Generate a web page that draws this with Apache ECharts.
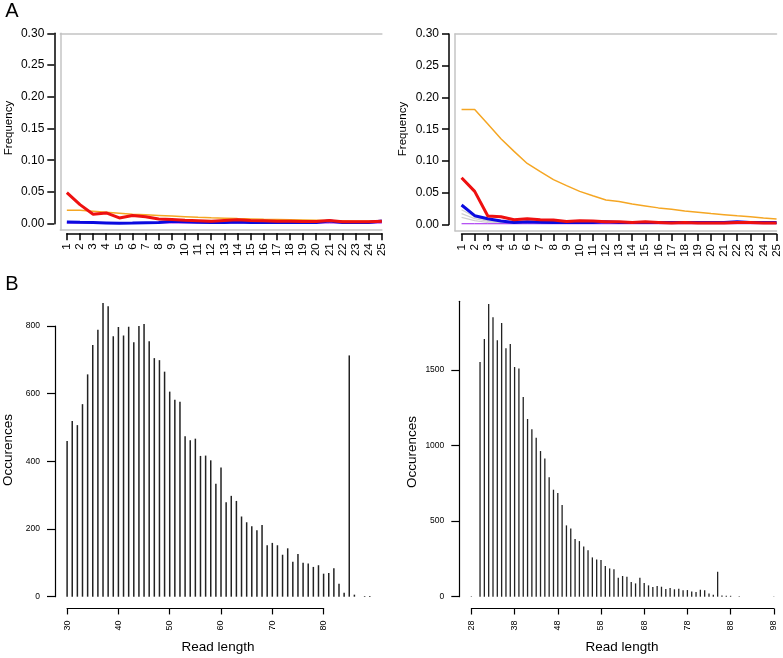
<!DOCTYPE html>
<html>
<head>
<meta charset="utf-8">
<script src="https://cdn.jsdelivr.net/npm/echarts@6/dist/echarts.min.js"></script>
<style>html,body{margin:0;padding:0;background:#fff}#c{width:783px;height:658px}</style>
</head>
<body>
<div id="c"></div>
<script>
// ---------- DATA ----------
const positions = [1,2,3,4,5,6,7,8,9,10,11,12,13,14,15,16,17,18,19,20,21,22,23,24,25];
const freqTicks = [0, 0.05, 0.10, 0.15, 0.20, 0.25, 0.30];

// Panel A left
const aLeftRed    = [0.049,0.030,0.015,0.017,0.009,0.013,0.011,0.0075,0.0065,0.0055,0.0048,0.004,0.0052,0.006,0.005,0.0045,0.004,0.004,0.0035,0.0035,0.005,0.003,0.003,0.003,0.004];
const aLeftBlue   = [0.0028,0.0022,0.0017,0.0012,0.0006,0.001,0.0015,0.002,0.0038,0.003,0.0022,0.002,0.002,0.0028,0.002,0.002,0.002,0.002,0.002,0.002,0.0042,0.002,0.002,0.002,0.0042];
const aLeftOrange = [0.021,0.021,0.0195,0.018,0.0165,0.015,0.014,0.013,0.012,0.011,0.010,0.0092,0.0086,0.008,0.0075,0.007,0.0066,0.0062,0.0058,0.0054,0.005,0.0047,0.0044,0.0042,0.004];
const aLeftPurple = [0.001,0.001,0.001,0.001,0.001,0.001,0.001,0.001,0.001,0.001,0.001,0.001,0.001,0.001,0.001,0.001,0.001,0.001,0.001,0.001,0.001,0.001,0.001,0.001,0.001];

// Panel A right
const aRightRed    = [0.0736,0.052,0.0132,0.012,0.0074,0.009,0.0074,0.007,0.0047,0.0058,0.0052,0.0042,0.004,0.003,0.004,0.003,0.002,0.003,0.002,0.002,0.002,0.003,0.003,0.002,0.002];
const aRightBlue   = [0.0305,0.0137,0.009,0.0053,0.003,0.004,0.0035,0.003,0.003,0.003,0.003,0.004,0.003,0.003,0.003,0.003,0.003,0.003,0.003,0.003,0.003,0.004,0.003,0.003,0.003];
const aRightOrange = [0.181,0.181,0.158,0.135,0.115,0.096,0.083,0.0705,0.061,0.052,0.045,0.0385,0.036,0.032,0.029,0.026,0.024,0.021,0.019,0.017,0.0153,0.0135,0.012,0.010,0.0085];
const aRightPurple = [0.001,0.001,0.001,0.001,0.001,0.001,0.001,0.001,0.001,0.001,0.001,0.001,0.001,0.001,0.001,0.001,0.001,0.001,0.001,0.001,0.001,0.001,0.001,0.001,0.001];
const aRightGray1  = [0.023,0.012,0.006,0.003,0.002,0.002,0.002,0.002,0.002,0.002,0.002,0.002,0.002,0.002,0.002,0.002,0.002,0.002,0.002,0.002,0.002,0.002,0.002,0.002,0.002];
const aRightGray2  = [0.017,0.009,0.005,0.0025,0.002,0.002,0.002,0.002,0.002,0.002,0.002,0.002,0.002,0.002,0.002,0.002,0.002,0.002,0.002,0.002,0.002,0.002,0.002,0.002,0.002];
const aRightGray3  = [0.011,0.006,0.003,0.002,0.0015,0.0015,0.0015,0.0015,0.0015,0.0015,0.0015,0.0015,0.0015,0.0015,0.0015,0.0015,0.0015,0.0015,0.0015,0.0015,0.0015,0.0015,0.0015,0.0015,0.0015];

// Panel B left
const bLeftLengths = [30,31,32,33,34,35,36,37,38,39,40,41,42,43,44,45,46,47,48,49,50,51,52,53,54,55,56,57,58,59,60,61,62,63,64,65,66,67,68,69,70,71,72,73,74,75,76,77,78,79,80,81,82,83,84,85,86,88,89];
const bLeftCounts  = [460,519,507,569,657,744,789,868,858,770,797,772,798,752,800,806,755,705,699,665,606,582,576,474,462,467,416,417,403,334,382,279,298,283,237,220,208,196,212,152,159,152,124,143,103,126,100,98,88,93,68,70,84,38,12,713,6,2,2];
const bLeftXTicks = [30,40,50,60,70,80];
const bLeftYTicks = [0,200,400,600,800];

// Panel B right
const bRightLengths = [28,30,31,32,33,34,35,36,37,38,39,40,41,42,43,44,45,46,47,48,49,50,51,52,53,54,55,56,57,58,59,60,61,62,63,64,65,66,67,68,69,70,71,72,73,74,75,76,77,78,79,80,81,82,83,84,85,86,87,88,90,98];
const bRightCounts  = [3,1553,1705,1937,1850,1698,1811,1645,1672,1520,1511,1321,1176,1109,1052,964,915,790,708,686,607,472,452,382,368,333,307,260,247,243,203,187,181,126,137,132,97,88,126,90,75,64,71,66,51,57,49,53,42,44,35,31,46,42,22,13,165,8,6,6,3,2];
const bRightXTicks = [28,38,48,58,68,78,88,98];
const bRightYTicks = [0,500,1000,1500];
const bRightYAxisEnd = 1955;

// ---------- LAYOUT / STYLE ----------
const FONT = 'Liberation Sans, Arial, Helvetica, sans-serif';
const grids = [], xAxes = [], yAxes = [], series = [];
function addGrid(g){ grids.push(Object.assign({outerBoundsMode:'none', containLabel:false}, g)); return grids.length-1; }
const hiddenAxis = (gi, min, max) => ({gridIndex:gi, type:'value', min, max, show:false});
const plain = v => String(v);

function blackYAxis(left, top, height, ticks, opt){
  const gi = addGrid({left, top, width:1, height});
  xAxes.push(hiddenAxis(gi,0,1));
  yAxes.push({gridIndex:gi, type:'value', position:'left', min:ticks[0], max:opt.end!==undefined?opt.end:ticks[ticks.length-1],
    axisLine:{show:true, onZero:false, lineStyle:{color:'#000', width:opt.lw}},
    axisTick:{show:true, length:opt.tick, customValues:ticks, lineStyle:{color:'#000', width:opt.lw}},
    axisLabel:{show:true, customValues:ticks, color:'#000', fontSize:opt.fs, fontFamily:FONT, margin:opt.margin, formatter:opt.fmt||plain},
    splitLine:{show:false}});
}
function blackXAxis(left, width, lineY, ticks, opt){
  const gi = addGrid({left, width, top:lineY-1, height:1});
  yAxes.push(hiddenAxis(gi,0,1));
  xAxes.push({gridIndex:gi, type:'value', position:'bottom', min:ticks[0], max:ticks[ticks.length-1],
    axisLine:{show:true, onZero:false, lineStyle:{color:'#000', width:opt.lw}},
    axisTick:{show:true, length:opt.tick, customValues:ticks, lineStyle:{color:'#000', width:opt.lw}},
    axisLabel:{show:true, customValues:ticks, rotate:90, color:'#000', fontSize:opt.fs, fontFamily:FONT, margin:opt.margin, formatter:plain},
    splitLine:{show:false}});
}

// Panel A main (box) grids
function panelA(left, top, lines){
  const pxX = 13.125, pxY = 634.6;
  const xmin = 0.5, xmax = 25, ymin = -0.01, ymax = 0.30;
  const gi = addGrid({left, top, width:(xmax-xmin)*pxX, height:(ymax-ymin)*pxY});
  const box = {color:'#c4c4c4', width:1.5};
  const xi = xAxes.length;
  xAxes.push({gridIndex:gi, type:'value', min:xmin, max:xmax, position:'bottom',
    axisLine:{show:true,onZero:false,lineStyle:box}, axisTick:{show:false}, axisLabel:{show:false}, splitLine:{show:false}});
  xAxes.push({gridIndex:gi, type:'value', min:xmin, max:xmax, position:'top',
    axisLine:{show:true,onZero:false,lineStyle:box}, axisTick:{show:false}, axisLabel:{show:false}, splitLine:{show:false}});
  const yi = yAxes.length;
  yAxes.push({gridIndex:gi, type:'value', min:ymin, max:ymax, position:'left',
    axisLine:{show:true,onZero:false,lineStyle:box}, axisTick:{show:false}, axisLabel:{show:false}, splitLine:{show:false}});
  lines.forEach(l => series.push({type:'line', xAxisIndex:xi, yAxisIndex:yi, showSymbol:false, symbol:'none', silent:true,
    data: positions.map((p,i)=>[p, l.data[i]]), lineStyle:{color:l.color, width:l.width}, itemStyle:{color:l.color}, z:l.z||2}));
  const x1 = left + (1 - xmin)*pxX;
  blackYAxis(left - 6, top, 0.30*pxY, freqTicks, {lw:1.5, tick:7, fs:12, margin:10, fmt:v=>v.toFixed(2)});
  blackXAxis(x1, 24*pxX, top + (ymax-ymin)*pxY + 3.3, positions, {lw:1.5, tick:7, fs:11.5, margin:10});
}

const RED='#ee1010', BLUE='#0a0ae0', ORANGE='#f5a623', PURPLE='#a020f0', GRAY='#d0d0d0';
panelA(60.3, 33.3, [
  {data:aLeftPurple, color:PURPLE, width:1},
  {data:aLeftOrange, color:ORANGE, width:1.5},
  {data:aLeftBlue, color:BLUE, width:3},
  {data:aLeftRed, color:RED, width:3}
]);
panelA(455, 34.0, [
  {data:aRightGray1, color:GRAY, width:1.2},
  {data:aRightGray2, color:GRAY, width:1.2},
  {data:aRightGray3, color:GRAY, width:1.2},
  {data:aRightPurple, color:PURPLE, width:1},
  {data:aRightOrange, color:ORANGE, width:1.5},
  {data:aRightBlue, color:BLUE, width:3},
  {data:aRightRed, color:RED, width:3}
]);

// Panel B
function panelB(cfg){
  const {left, xmin, xmax, pxX, zeroY, ymin, ymax, pxY, lengths, counts, xTicks, yTicks, yEnd, barW} = cfg;
  const top = zeroY - ymax*pxY;
  const gi = addGrid({left, top, width:(xmax-xmin)*pxX, height:(ymax-ymin)*pxY});
  const xi = xAxes.length, yi = yAxes.length;
  xAxes.push(hiddenAxis(gi, xmin, xmax));
  yAxes.push(hiddenAxis(gi, ymin, ymax));
  series.push({type:'bar', xAxisIndex:xi, yAxisIndex:yi, barWidth:barW, silent:true,
    data: lengths.map((l,i)=>[l, counts[i]]), itemStyle:{color:'#222'}});
  blackYAxis(left, zeroY - yEnd*pxY, yEnd*pxY, yTicks, {lw:1.2, tick:8, fs:8.5, margin:15, end:yEnd});
  blackXAxis(left + (xTicks[0]-xmin)*pxX, (xTicks[xTicks.length-1]-xTicks[0])*pxX, zeroY - ymin*pxY, xTicks, {lw:1.2, tick:6, fs:9, margin:12});
}
panelB({left:55, xmin:27.64, xmax:91.36, pxX:5.13, zeroY:596.7, ymin:-34.7, ymax:902.7, pxY:0.3384,
  lengths:bLeftLengths, counts:bLeftCounts, xTicks:bLeftXTicks, yTicks:bLeftYTicks, yEnd:800, barW:1.5});
panelB({left:459.3, xmin:25.2, xmax:100.8, pxX:4.32, zeroY:596.7, ymin:-78.2, ymax:2033, pxY:0.1511,
  lengths:bRightLengths, counts:bRightCounts, xTicks:bRightXTicks, yTicks:bRightYTicks, yEnd:bRightYAxisEnd, barW:1.3});

const txt = (x,y,text,size,rot) => ({type:'text', x, y, rotation:rot||0, silent:true,
  style:{text, fill:'#000', font:`${size}px ${FONT}`, align:'center', verticalAlign:'middle'}});

const chart = echarts.init(document.getElementById('c'), null, {renderer:'canvas'});
chart.setOption({
  animation:false,
  backgroundColor:'#fff',
  grid:grids, xAxis:xAxes, yAxis:yAxes, series,
  graphic:[
    txt(12, 11, 'A', 20),
    txt(12, 284, 'B', 20),
    txt(9, 128, 'Frequency', 11.5, Math.PI/2),
    txt(403, 129, 'Frequency', 11.5, Math.PI/2),
    txt(8, 450, 'Occurences', 13.5, Math.PI/2),
    txt(412, 452, 'Occurences', 13.5, Math.PI/2),
    txt(218, 647, 'Read length', 13.5),
    txt(622, 647, 'Read length', 13.5)
  ]
});
</script>
</body>
</html>
